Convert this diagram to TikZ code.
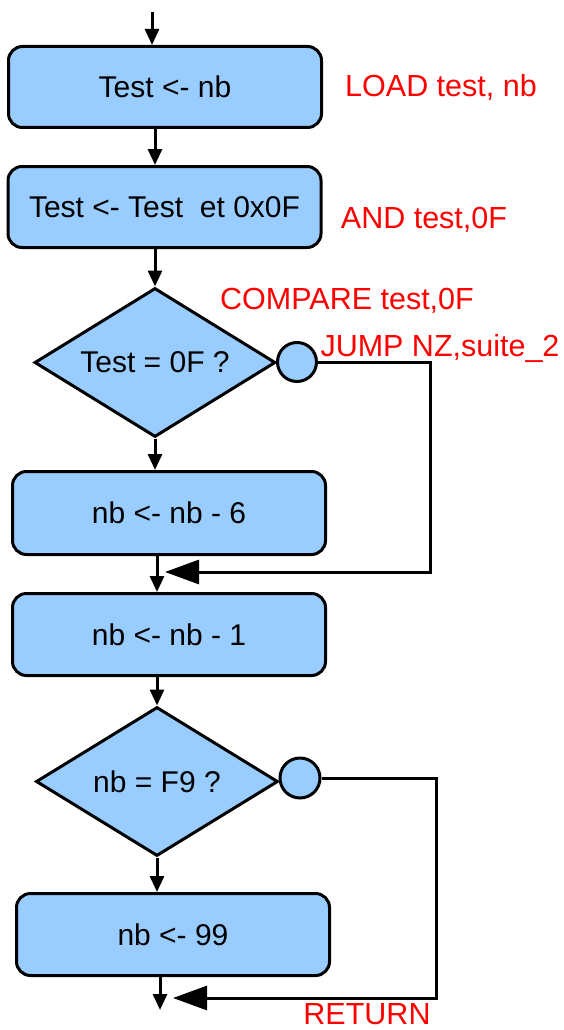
\documentclass[tikz,border=0pt]{standalone}
\usepackage{fontspec}
\setmainfont{Liberation Sans}
\usetikzlibrary{shapes.geometric,arrows.meta}
\definecolor{boxblue}{RGB}{153,204,255}
\definecolor{lblred}{RGB}{255,0,0}
\begin{document}
\begin{tikzpicture}[x=1pt,y=-1pt,
 proc/.style={draw=black, line width=3pt, fill=boxblue, rounded corners=14pt, minimum width=313pt, minimum height=81pt, inner sep=0pt, font=\fontsize{30}{35}\selectfont},
 dec/.style={diamond, shape aspect=1.62, draw=black, line width=3pt, fill=boxblue, inner sep=0pt, minimum width=241pt, minimum height=149pt, font=\fontsize{30}{35}\selectfont},
 conn/.style={circle, draw=black, line width=3pt, fill=boxblue, minimum size=39pt, inner sep=0pt},
 arr/.style={line width=3pt, -{Triangle[length=16pt,width=14pt]}},
 bigarr/.style={line width=3pt, -{Triangle[length=34pt,width=24pt]}},
 lbl/.style={text=lblred, font=\fontsize{30.5}{36}\selectfont, anchor=base, inner sep=0pt}]
\useasboundingbox (0,0) rectangle (564,1030);
\node[proc] (b1) at (165,87) {Test <- nb};
\node[proc] (b2) at (164.5,207) {Test <- Test\ \ et 0x0F};
\node[dec] (d1) at (155,362.5) {Test = 0F ?};
\node[conn] (c1) at (297,362) {};
\node[proc, minimum height=83pt] (b3) at (169,513) {nb <- nb - 6};
\node[proc, minimum height=82pt] (b4) at (169,634.5) {nb <- nb - 1};
\node[dec, minimum width=242pt] (d2) at (157,781.5) {nb = F9 ?};
\node[conn, minimum size=40pt] (c2) at (300,778) {};
\node[proc, minimum height=82pt] (b5) at (173,934.5) {nb <- 99};
\coordinate (start) at (152,12);
\coordinate (end) at (160,1010);
\coordinate (j1) at (165,572);
\coordinate (j2) at (173,998);
\coordinate (r1) at (430,0);
\coordinate (r2) at (436,0);
\draw[arr] (start) -- (start |- b1.north);
\draw[arr] (b1.south -| d1.north) -- (b2.north -| d1.north);
\draw[arr] (b2.south -| d1.north) -- (d1.north);
\draw[arr] (d1.south) -- (b3.north -| d1.south);
\draw[arr] (b3.south -| d2.north) -- (b4.north -| d2.north);
\draw[arr] (b4.south -| d2.north) -- (d2.north);
\draw[arr] (d2.south) -- (b5.north -| d2.south);
\draw[arr] (b5.south -| end) -- (end);
\draw[bigarr] (c1.east) -| (r1 |- j1) -- (j1);
\draw[bigarr] (c2.east) -| (r2 |- j2) -- (j2);
\node[lbl] (l1) at (441,97) {LOAD test, nb};
\node[lbl] (l2) at (424,228) {AND test,0F};
\node[lbl] (l3) at (347,309) {COMPARE test,0F};
\node[lbl] (l4) at (440,356) {JUMP NZ,suite\_2};
\node[lbl] (l5) at (367,1024) {RETURN};
\end{tikzpicture}
\end{document}
